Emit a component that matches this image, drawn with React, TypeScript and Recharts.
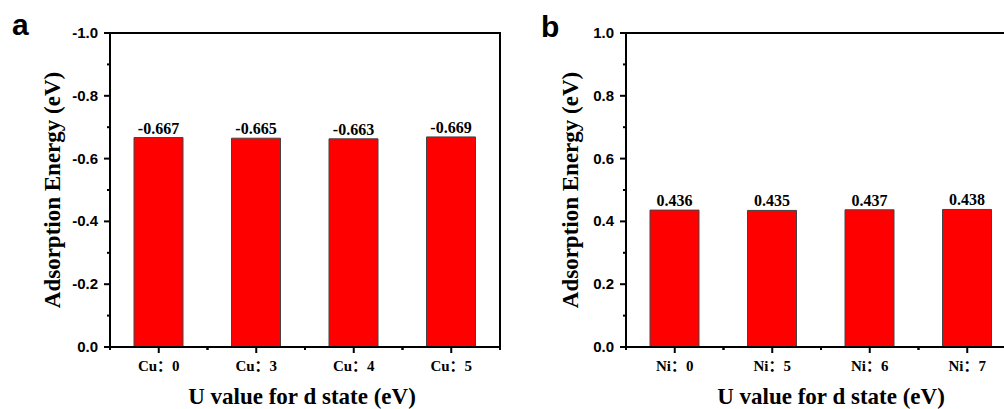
import React from 'react';
import { BarChart, Bar, XAxis, YAxis, LabelList, Label, ReferenceArea } from 'recharts';

// panel a: Cu
const cuCategories = ['Cu：0', 'Cu：3', 'Cu：4', 'Cu：5'];
const cuEnergy = [-0.667, -0.665, -0.663, -0.669];
const cuTicks = [0, -0.1, -0.2, -0.3, -0.4, -0.5, -0.6, -0.7, -0.8, -0.9, -1.0];

// panel b: Ni
const niCategories = ['Ni：0', 'Ni：5', 'Ni：6', 'Ni：7'];
const niEnergy = [0.436, 0.435, 0.437, 0.438];
const niTicks = [0, 0.1, 0.2, 0.3, 0.4, 0.5, 0.6, 0.7, 0.8, 0.9, 1.0];

const xTitle = 'U value for d state (eV)';
const yTitle = 'Adsorption Energy (eV)';

const SERIF = "'Liberation Serif', 'Times New Roman', 'Noto Sans CJK SC', serif";
const SANS = "'Liberation Sans', Arial, sans-serif";
const PLOT_W = 390;
const TICK_LEN = 6;
const Y_TICK_GAP = 6;

const YTick = (props: any) => {
  const { x, y, payload } = props;
  const v = payload.value as number;
  const major = Math.round(Math.abs(v) * 10) % 2 === 0;
  const axisX = x + Y_TICK_GAP + TICK_LEN;
  return (
    <g>
      <line x1={axisX - (major ? TICK_LEN : TICK_LEN / 2)} x2={axisX} y1={y} y2={y} stroke="#000" strokeWidth={2} />
      {major && (
        <text x={x} y={y} dy={5} textAnchor="end" fontFamily={SANS} fontWeight="bold" fontSize={15} fill="#000">
          {v.toFixed(1)}
        </text>
      )}
    </g>
  );
};

const makeXTick = (count: number) => (props: any) => {
  const { x, y, payload } = props;
  const axisY = y - TICK_LEN;
  const half = PLOT_W / count / 2;
  return (
    <g>
      <line x1={x} x2={x} y1={axisY} y2={axisY + TICK_LEN} stroke="#000" strokeWidth={2} />
      <line x1={x - half} x2={x - half} y1={axisY} y2={axisY + TICK_LEN / 2} stroke="#000" strokeWidth={2} />
      <line x1={x + half} x2={x + half} y1={axisY} y2={axisY + TICK_LEN / 2} stroke="#000" strokeWidth={2} />
      <text x={x} y={y + 18} textAnchor="middle" fontFamily={SERIF} fontWeight="bold" fontSize={15} fill="#000">
        {payload.value}
      </text>
    </g>
  );
};

const makeXTitle = (dx: number) => (props: any) => {
  const vb = props.viewBox;
  return (
    <text x={vb.x + vb.width / 2 + dx} y={vb.y + vb.height - 5} textAnchor="middle"
      fontFamily={SERIF} fontWeight="bold" fontSize={23} fill="#000">
      {xTitle}
    </text>
  );
};

const makeYTitle = (offset: number) => (props: any) => {
  const vb = props.viewBox;
  const cx = vb.x + offset;
  const cy = vb.y + vb.height / 2;
  return (
    <text x={cx} y={cy} dy={8} textAnchor="middle" transform={`rotate(-90, ${cx}, ${cy})`}
      fontFamily={SERIF} fontWeight="bold" fontSize={23} fill="#000">
      {yTitle}
    </text>
  );
};

interface PanelProps {
  categories: string[];
  values: number[];
  ticks: number[];
  domain: [number, number];
  reversed: boolean;
  yLabelOffset: number;
  xLabelDx: number;
}

function Panel({ categories, values, ticks, domain, reversed, yLabelOffset, xLabelDx }: PanelProps) {
  const data = categories.map((c, i) => ({ name: c, value: values[i] }));
  return (
    <BarChart width={504} height={409} data={data} margin={{ top: 33, right: 4, bottom: 0, left: 40 }}>
      <ReferenceArea y1={domain[0]} y2={domain[1]} fill="none" stroke="#000" strokeWidth={2} ifOverflow="visible" />
      <XAxis
        dataKey="name"
        height={62}
        interval={0}
        tickSize={TICK_LEN}
        tickMargin={0}
        tickLine={false}
        tick={makeXTick(categories.length)}
        axisLine={{ stroke: '#000', strokeWidth: 2 }}
      >
        <Label content={makeXTitle(xLabelDx)} />
      </XAxis>
      <YAxis
        type="number"
        domain={domain}
        ticks={ticks}
        reversed={reversed}
        interval={0}
        width={70}
        tickSize={TICK_LEN}
        tickMargin={Y_TICK_GAP}
        tickLine={false}
        tick={YTick}
        axisLine={{ stroke: '#000', strokeWidth: 2 }}
      >
        <Label content={makeYTitle(yLabelOffset)} />
      </YAxis>
      <Bar dataKey="value" barSize={49} fill="#ff0000" stroke="#444" strokeWidth={1} isAnimationActive={false}>
        <LabelList
          dataKey="value"
          position="top"
          offset={4}
          formatter={(v: any) => Number(v).toFixed(3)}
          style={{ fontFamily: SERIF, fontWeight: 'bold', fontSize: 16, fill: '#000' }}
        />
      </Bar>
    </BarChart>
  );
}

const letterStyle: React.CSSProperties = {
  position: 'absolute',
  fontFamily: SANS,
  fontWeight: 'bold',
  fontSize: 30,
  lineHeight: '30px',
};

export default function App() {
  return (
    <div style={{ position: 'absolute', left: 0, top: 0, width: 1004, height: 409, overflow: 'hidden', background: '#fff' }}>
      <div style={{ position: 'absolute', left: 0, top: 0 }}>
        <Panel categories={cuCategories} values={cuEnergy} ticks={cuTicks} domain={[-1, 0]} reversed={true} yLabelOffset={12} xLabelDx={-3} />
      </div>
      <div style={{ position: 'absolute', left: 516, top: 0 }}>
        <Panel categories={niCategories} values={niEnergy} ticks={niTicks} domain={[0, 1]} reversed={false} yLabelOffset={14} xLabelDx={10} />
      </div>
      <div style={{ ...letterStyle, left: 12, top: 10 }}>a</div>
      <div style={{ ...letterStyle, left: 541, top: 12 }}>b</div>
    </div>
  );
}
